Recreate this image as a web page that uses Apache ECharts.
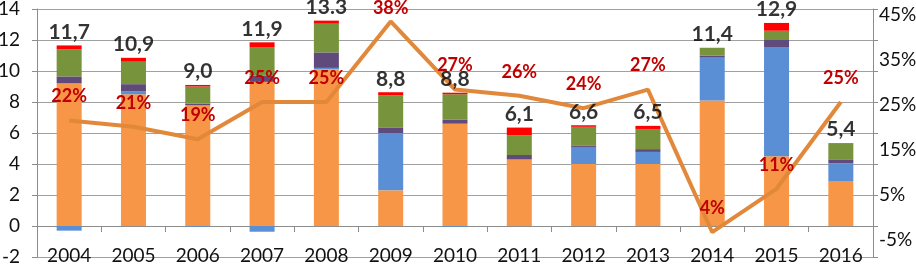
<!DOCTYPE html>
<html>
<head>
<meta charset="utf-8">
<script src="https://cdn.jsdelivr.net/npm/echarts@6/dist/echarts.min.js"></script>
<style>
html,body{margin:0;padding:0;background:#fff;}
#c{width:916px;height:264px;}
</style>
</head>
<body>
<div id="c"></div>
<script>
const years = ['2004','2005','2006','2007','2008','2009','2010','2011','2012','2013','2014','2015','2016'];
const orange = [9.2, 8.5, 7.8, 9.3, 10.1, 2.3, 6.6, 4.3, 4.0, 4.0, 8.1, 4.5, 2.9];
const blue   = [-0.3, 0.2, -0.05, -0.37, 0.1, 3.7, -0.05, 0, 1.1, 0.78, 2.8, 7.05, 1.15];
const purple = [0.45, 0.45, 0.1, 0.4, 1.0, 0.33, 0.25, 0.28, 0.1, 0.18, 0.1, 0.45, 0.25];
const green  = [1.75, 1.45, 1.1, 1.85, 1.85, 2.1, 1.65, 1.27, 1.2, 1.3, 0.5, 0.6, 1.05];
const red    = [0.25, 0.25, 0.1, 0.3, 0.2, 0.2, 0.1, 0.5, 0.1, 0.2, 0, 0.5, 0];
const totalLabels = ['11,7','10,9','9,0','11,9','13.3','8,8','8,8','6,1','6,6','6,5','11,4','12,9','5,4'];
const share = [22, 21, 19, 25, 25, 38, 27, 26, 24, 27, 4, 11, 25];
const leftTicks = {min: -2, max: 14, step: 2};
const lineTicks = {min: 0, max: 40, step: 5};
const rightTickLabels = {min: -5, max: 45, step: 10};

const FONT = 'Lato';
const stackParts = [orange, blue, purple, green, red];
const tops = years.map((_, i) => stackParts.reduce((s, arr) => s + (arr[i] > 0 ? arr[i] : 0), 0));

const colors = ['#F79646', '#5A8FD5', '#604A7B', '#77933C', '#FF0000'];
const barSeries = stackParts.map((arr, k) => ({
  type: 'bar', stack: 'all', data: arr, barWidth: 25,
  xAxisIndex: 0, yAxisIndex: 0,
  itemStyle: {color: colors[k]}, silent: true, z: 2
}));

const labelNear = {5: 4};
const lineData = share.map((v, i) => labelNear[i] != null ? {value: v, label: {distance: labelNear[i]}} : v);

const chart = echarts.init(document.getElementById('c'), null, {renderer: 'canvas'});
chart.setOption({
  backgroundColor: '#fff',
  animation: false,
  textStyle: {fontFamily: FONT},
  grid: [
    {left: 37, right: 43, top: 9, bottom: 7, containLabel: false, outerBoundsMode: 'none'},
    {left: 37, right: 43, top: 15, bottom: 24, containLabel: false, outerBoundsMode: 'none'}
  ],
  xAxis: [
    {
      type: 'category', data: years, gridIndex: 0,
      axisLine: {show: true, onZero: true, onZeroAxisIndex: 0, lineStyle: {color: '#8c8c8c', width: 1}},
      axisTick: {show: true, length: 6, lineStyle: {color: '#8c8c8c'}},
      axisLabel: {show: false},
      splitLine: {show: false}
    },
    {
      type: 'category', data: years, gridIndex: 1, position: 'bottom',
      axisLine: {show: false, onZero: false}, axisTick: {show: false}, splitLine: {show: false},
      axisLabel: {color: '#111', fontSize: 19, fontFamily: FONT, margin: 6, interval: 0}
    }
  ],
  yAxis: [
    {
      type: 'value', gridIndex: 0, min: leftTicks.min, max: leftTicks.max, interval: leftTicks.step,
      axisLine: {show: true, lineStyle: {color: '#8c8c8c'}},
      axisTick: {show: true, length: 5, lineStyle: {color: '#8c8c8c'}},
      axisLabel: {color: '#111', fontSize: 19, fontFamily: FONT, margin: 17},
      splitLine: {show: true, lineStyle: {color: '#a0a0a0', width: 1}}
    },
    {
      type: 'value', gridIndex: 0, position: 'right', min: lineTicks.min, max: lineTicks.max, interval: lineTicks.step,
      axisLine: {show: true, onZero: false, lineStyle: {color: '#8c8c8c'}},
      axisTick: {show: true, length: 5, lineStyle: {color: '#8c8c8c'}},
      axisLabel: {show: false},
      splitLine: {show: false}
    },
    {
      type: 'value', gridIndex: 1, position: 'right', min: rightTickLabels.min, max: rightTickLabels.max, interval: rightTickLabels.step,
      axisLine: {show: false, onZero: false}, axisTick: {show: false}, splitLine: {show: false},
      axisLabel: {color: '#111', fontSize: 19, fontFamily: FONT, margin: 6, formatter: '{value}%'}
    }
  ],
  series: barSeries.concat([
    {
      type: 'line', data: lineData, xAxisIndex: 0, yAxisIndex: 1,
      showSymbol: true, symbol: 'circle', symbolSize: 0, silent: true, z: 5,
      itemStyle: {color: '#E2883A'},
      lineStyle: {color: '#E2883A', width: 4},
      labelLayout: {hideOverlap: false},
      label: {show: true, position: 'top', distance: 15, formatter: '{c}%',
              color: '#C00000', fontWeight: 'bold', fontSize: 18, fontFamily: FONT}
    },
    {
      type: 'scatter', data: tops, xAxisIndex: 0, yAxisIndex: 0,
      symbolSize: 0, silent: true, z: 6,
      label: {show: true, position: 'top', distance: 3,
              formatter: p => totalLabels[p.dataIndex],
              color: '#000', fontWeight: 'bold', fontSize: 21, fontFamily: FONT}
    }
  ])
});
</script>
</body>
</html>
